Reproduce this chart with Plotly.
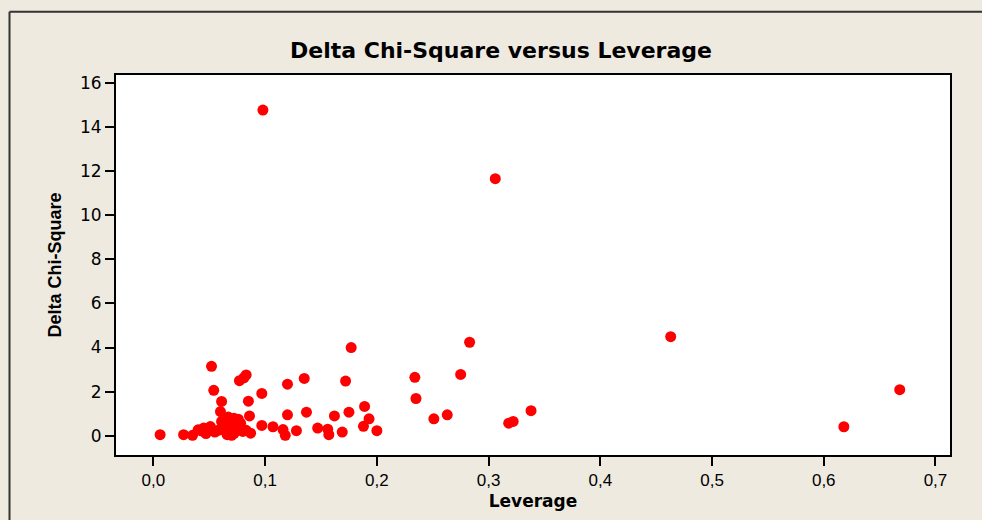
import plotly.graph_objects as go

leverage = [0.098, 0.306, 0.463, 0.668, 0.618, 0.177, 0.283, 0.234, 0.235, 0.275,
            0.251, 0.263, 0.318, 0.322, 0.338, 0.120, 0.135, 0.172, 0.120, 0.137,
            0.162, 0.175, 0.189, 0.193, 0.188, 0.200, 0.147, 0.156, 0.157, 0.169,
            0.128, 0.116, 0.118, 0.052, 0.054, 0.061, 0.077, 0.081, 0.083, 0.085,
            0.097, 0.086, 0.097, 0.107, 0.006, 0.027, 0.035, 0.040, 0.045, 0.051,
            0.055, 0.060, 0.061, 0.064, 0.066, 0.072, 0.075, 0.078, 0.080, 0.087,
            0.063, 0.068, 0.070, 0.072, 0.069, 0.074, 0.079, 0.083, 0.058, 0.047,
            0.043, 0.050, 0.067, 0.076, 0.070]
delta_chi_sq = [14.76, 11.65, 4.49, 2.09, 0.41, 4.00, 4.24, 2.65, 1.69, 2.78,
                0.77, 0.95, 0.57, 0.65, 1.14, 2.34, 2.60, 2.48, 0.95, 1.07,
                0.90, 1.07, 1.33, 0.77, 0.43, 0.23, 0.35, 0.30, 0.05, 0.17,
                0.23, 0.28, 0.02, 3.15, 2.06, 1.56, 2.50, 2.63, 2.76, 1.57,
                1.92, 0.90, 0.47, 0.41, 0.05, 0.05, 0.02, 0.27, 0.35, 0.42,
                0.17, 1.10, 0.65, 0.42, 0.05, 0.80, 0.27, 0.57, 0.20, 0.12,
                0.30, 0.55, 0.35, 0.10, 0.70, 0.45, 0.32, 0.25, 0.25, 0.10,
                0.22, 0.30, 0.85, 0.75, 0.02]

x_ticks = [0.0, 0.1, 0.2, 0.3, 0.4, 0.5, 0.6, 0.7]
x_tick_labels = ["0,0", "0,1", "0,2", "0,3", "0,4", "0,5", "0,6", "0,7"]
y_ticks = [0, 2, 4, 6, 8, 10, 12, 14, 16]

fig = go.Figure()
fig.add_trace(go.Scatter(
    x=leverage, y=delta_chi_sq, mode="markers",
    marker=dict(color="#FF0000", size=11, line=dict(width=0)),
    showlegend=False, hoverinfo="x+y",
))

axis_common = dict(
    showgrid=False, zeroline=False, showline=True, linecolor="black", linewidth=2,
    mirror=True, ticks="outside", ticklen=9, tickwidth=1.5, tickcolor="black",
)

fig.update_layout(
    width=982, height=520,
    margin=dict(l=116, r=32, t=75, b=63),
    paper_bgcolor="#EEEAE0",
    plot_bgcolor="white",
    title=dict(text="<b>Delta Chi-Square versus Leverage</b>",
               x=501/982, xanchor="center", xref="container",
               y=1 - 50/520, yanchor="middle", yref="container",
               font=dict(family="DejaVu Sans", size=22, color="black")),
    xaxis=dict(range=[-0.0335, 0.713], tickvals=x_ticks, ticktext=x_tick_labels,
               tickfont=dict(family="Liberation Sans Narrow, Liberation Sans", size=17, color="black"),
               title=dict(text="<b>Leverage</b>", standoff=6,
                          font=dict(family="DejaVu Sans", size=17, color="black")),
               **axis_common),
    yaxis=dict(range=[-0.87, 16.35], tickvals=y_ticks,
               tickfont=dict(family="DejaVu Sans", size=17, color="black"),
               title=dict(text="<b>Delta Chi-Square</b>", standoff=14,
                          font=dict(family="Liberation Sans Narrow, Liberation Sans", size=18, color="black")),
               **axis_common),
    shapes=[
        dict(type="line", xref="paper", yref="paper",
             x0=(9.5 - 116) / 834, x1=1.2, y0=1 + (75 - 11.5) / 382, y1=1 + (75 - 11.5) / 382,
             line=dict(color="#333333", width=2)),
        dict(type="line", xref="paper", yref="paper",
             x0=(9.5 - 116) / 834, x1=(9.5 - 116) / 834, y0=1 + (75 - 11.5) / 382, y1=-0.3,
             line=dict(color="#333333", width=2)),
    ],
)

fig.write_html("out.html", config={"displayModeBar": False},
               post_script="document.body.style.margin='0';document.body.style.overflow='hidden';")
